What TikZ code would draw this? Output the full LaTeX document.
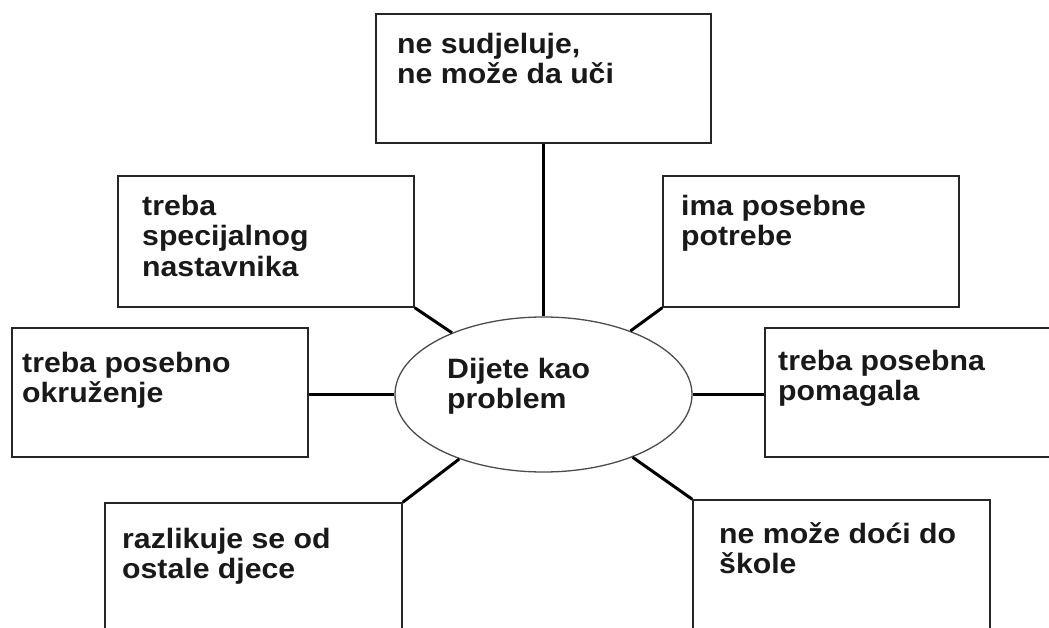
\documentclass[tikz,border=0pt]{standalone}
\usepackage{fontspec}
\setmainfont{Liberation Sans}[FakeStretch=1.08]
\usetikzlibrary{shapes.geometric}
\begin{document}
\begin{tikzpicture}[x=1pt,y=-1pt,
  box/.style={draw=black!85, line width=1.4pt, rectangle, inner sep=0pt},
  blob/.style={draw=black!70, line width=1.3pt, ellipse, inner sep=0pt, minimum width=297pt, minimum height=155pt},
  lbl/.style={anchor=north west, inner sep=0pt, align=left, text=black!90,
    font=\fontsize{28}{30.5}\selectfont\bfseries},
  link/.style={draw=black, line width=3pt}]
\useasboundingbox (0,0) rectangle (1049,628);
\clip (0,0) rectangle (1049,628);
\fill[white] (0,0) rectangle (1049,628);

\node[blob] (ell) at (543.5,394.5) {};

\node[box, minimum width=335pt, minimum height=129pt] (top) at (543.5,78.5) {};
\node[box, minimum width=296pt, minimum height=131pt] (ul) at (266,241.5) {};
\node[box, minimum width=296pt, minimum height=131pt] (ur) at (811,241.5) {};
\node[box, minimum width=296pt, minimum height=129pt] (lm) at (160,392.5) {};
\node[box, minimum width=295pt, minimum height=129pt] (rm) at (912.5,392.5) {};
\node[box, minimum width=297pt, minimum height=137pt] (ll) at (253.5,571.5) {};
\node[box, minimum width=297pt, minimum height=140pt] (lr) at (841.5,570) {};

\node[lbl] (ttop) at (397,33) {ne sudjeluje,\\ne može da uči};
\node[lbl] (tul) at (142,195) {treba\\specijalnog\\nastavnika};
\node[lbl] (tur) at (681,195) {ima posebne\\potrebe};
\node[lbl] (tlm) at (22,352) {treba posebno\\okruženje};
\node[lbl] (trm) at (778,350) {treba posebna\\pomagala};
\node[lbl] (tell) at (447,358) {Dijete kao\\problem};
\node[lbl] (tll) at (122,528) {razlikuje se od\\ostale djece};
\node[lbl] (tlr) at (719,522) {ne može doći do\\škole};

\draw[link] (top.south) -- (ell.north);
\draw[link] (ul.south east) -- (ell);
\draw[link] (ur.south west) -- (ell);
\draw[link] (ell.west) -- (ell.west -| lm.east);
\draw[link] (ell.east) -- (ell.east -| rm.west);
\draw[link] (ll.north east) -- (ell);
\draw[link] (lr.north west) -- (ell);
\end{tikzpicture}
\end{document}
